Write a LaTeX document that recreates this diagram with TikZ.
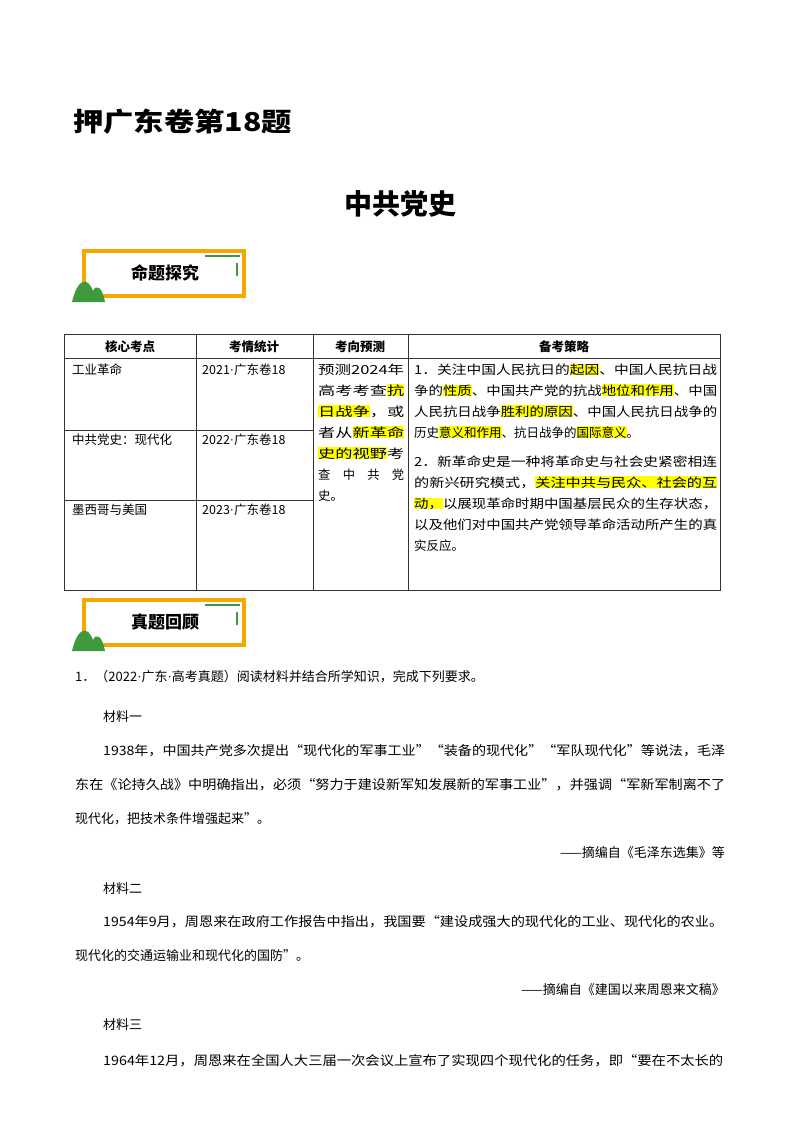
\documentclass[tikz,border=0pt]{standalone}
\usepackage{fontspec}
\usepackage{graphicx}
\setmainfont{Noto Sans CJK SC}
\newfontfamily\latf{Liberation Serif}
\newcommand\md{{\latf ·}}
\definecolor{badgeor}{HTML}{F5A800}
\definecolor{badgegr}{HTML}{3E9A3A}
\definecolor{hly}{HTML}{FFFF00}
\newcommand\fl[2]{\resizebox{#1}{\height}{#2}}
\newcommand\hl[1]{{\setlength\fboxsep{0pt}\colorbox{hly}{\vphantom{国}#1}}}
\tikzset{
  txt/.style={anchor=base west,inner sep=0pt,font=\fontsize{13}{15}\selectfont},
  ttxt/.style={anchor=base west,inner sep=0pt,font=\fontsize{12.5}{14}\selectfont},
  hdr/.style={anchor=base,inner sep=0pt,font=\fontsize{12.5}{14}\selectfont\bfseries},
  grid/.style={draw=black!80,line width=0.8pt}
}
\newcommand\badge[3]{%
  \draw[badgeor,line width=4pt] (84,#1) rectangle (244,#1+45);
  \draw[badgegr,line width=1.5pt] (205,#1+5) -- (240,#1+5);
  \draw[badgegr,line width=1.5pt] (237,#1+12) -- (237,#1+25);
  \fill[badgegr] (72,#1+51) .. controls (78,#1+26) and (88,#1+26) .. (93,#1+40) .. controls (96,#1+33) and (102,#1+35) .. (105,#1+51) -- cycle;
  \node[anchor=center,inner sep=0pt,font=\fontsize{17}{19}\selectfont\bfseries] (#3) at (165,#1+22) {#2};
}
\begin{document}
\begin{tikzpicture}[x=1pt,y=-1pt]
\useasboundingbox[fill=white] (0,0) rectangle (800,1132);
\node[anchor=base west,inner sep=0pt] (title) at (73,131) {\fl{219pt}{\fontsize{26}{28}\selectfont\bfseries 押广东卷第18题}};
\node[anchor=base,inner sep=0pt,font=\fontsize{28}{30}\selectfont\bfseries] (sub) at (400,214) {中共党史};
\badge{251}{命题探究}{b1}
% table
\draw[grid] (64,334) rectangle (720,590);
\draw[grid] (64,358) -- (720,358);
\draw[grid] (64,430) -- (313,430);
\draw[grid] (64,500) -- (313,500);
\draw[grid] (196,334) -- (196,590);
\draw[grid] (313,334) -- (313,590);
\draw[grid] (408,334) -- (408,590);
\node[hdr] (h1) at (130,351) {核心考点};
\node[hdr] (h2) at (254,351) {考情统计};
\node[hdr] (h3) at (360,351) {考向预测};
\node[hdr] (h4) at (564,351) {备考策略};
\node[ttxt] (a1) at (72,374) {工业革命};
\node[ttxt] (a2) at (72,444) {中共党史：现代化};
\node[ttxt] (a3) at (72,514) {墨西哥与美国};
\node[ttxt] (b1t) at (202,374) {2021\md 广东卷18};
\node[ttxt] (b2t) at (202,444) {2022\md 广东卷18};
\node[ttxt] (b3t) at (202,514) {2023\md 广东卷18};
\node[ttxt] (c1) at (318,374) {\fl{86pt}{预测2024年}};
\node[ttxt] (c2) at (318,395) {\fl{86pt}{高考考查\hl{抗}}};
\node[ttxt] (c3) at (318,416) {\fl{86pt}{\hl{日战争}，或}};
\node[ttxt] (c4) at (318,437) {\fl{86pt}{者从\hl{新革命}}};
\node[ttxt] (c5) at (318,458) {\fl{86pt}{\hl{史的视野}考}};
\node[ttxt] (c6) at (318,479) {\fl{86pt}{查\hspace{1em}中\hspace{1em}共\hspace{1em}党}};
\node[ttxt] (c7) at (318,500) {史。};
\node[ttxt] (d1) at (414,374) {\fl{303pt}{1．关注中国人民抗日的\hl{起因}、中国人民抗日战}};
\node[ttxt] (d2) at (414,395) {\fl{303pt}{争的\hl{性质}、中国共产党的抗战\hl{地位和作用}、中国}};
\node[ttxt] (d3) at (414,416) {\fl{303pt}{人民抗日战争\hl{胜利的原因}、中国人民抗日战争的}};
\node[ttxt] (d4) at (414,437) {历史\hl{意义和作用}、抗日战争的\hl{国际意义}。};
\node[ttxt] (d5) at (414,466) {\fl{303pt}{2．新革命史是一种将革命史与社会史紧密相连}};
\node[ttxt] (d6) at (414,487) {\fl{303pt}{的新兴研究模式，\hl{关注中共与民众、社会的互}}};
\node[ttxt] (d7) at (414,508) {\fl{303pt}{\hl{动，}以展现革命时期中国基层民众的生存状态，}};
\node[ttxt] (d8) at (414,529) {\fl{303pt}{以及他们对中国共产党领导革命活动所产生的真}};
\node[ttxt] (d9) at (414,550) {实反应。};
\badge{600}{真题回顾}{b2}
% question text
\node[txt] (q0) at (75,681) {1．（2022\md 广东\md 高考真题）阅读材料并结合所学知识，完成下列要求。};
\node[txt] (m1) at (103,721) {材料一};
\node[txt] (l1) at (103,755) {\fl{622pt}{1938年，中国共产党多次提出“现代化的军事工业”“装备的现代化”“军队现代化”等说法，毛泽}};
\node[txt] (l2) at (75,789) {\fl{650pt}{东在《论持久战》中明确指出，必须“努力于建设新军知发展新的军事工业”，并强调“军新军制离不了}};
\node[txt] (l3) at (75,823) {现代化，把技术条件增强起来”。};
\node[anchor=base east,inner sep=0pt,font=\fontsize{13}{15}\selectfont] (s1) at (725,857) {——摘编自《毛泽东选集》等};
\node[txt] (m2) at (103,893) {材料二};
\node[txt] (l4) at (103,926) {\fl{620pt}{1954年9月，周恩来在政府工作报告中指出，我国要“建设成强大的现代化的工业、现代化的农业。}};
\node[txt] (l5) at (75,960) {现代化的交通运输业和现代化的国防”。};
\node[anchor=base east,inner sep=0pt,font=\fontsize{13}{15}\selectfont] (s2) at (725,994) {——摘编自《建国以来周恩来文稿》};
\node[txt] (m3) at (103,1029) {材料三};
\node[txt] (l6) at (103,1065) {\fl{620pt}{1964年12月，周恩来在全国人大三届一次会议上宣布了实现四个现代化的任务，即“要在不太长的}};
\end{tikzpicture}
\end{document}
